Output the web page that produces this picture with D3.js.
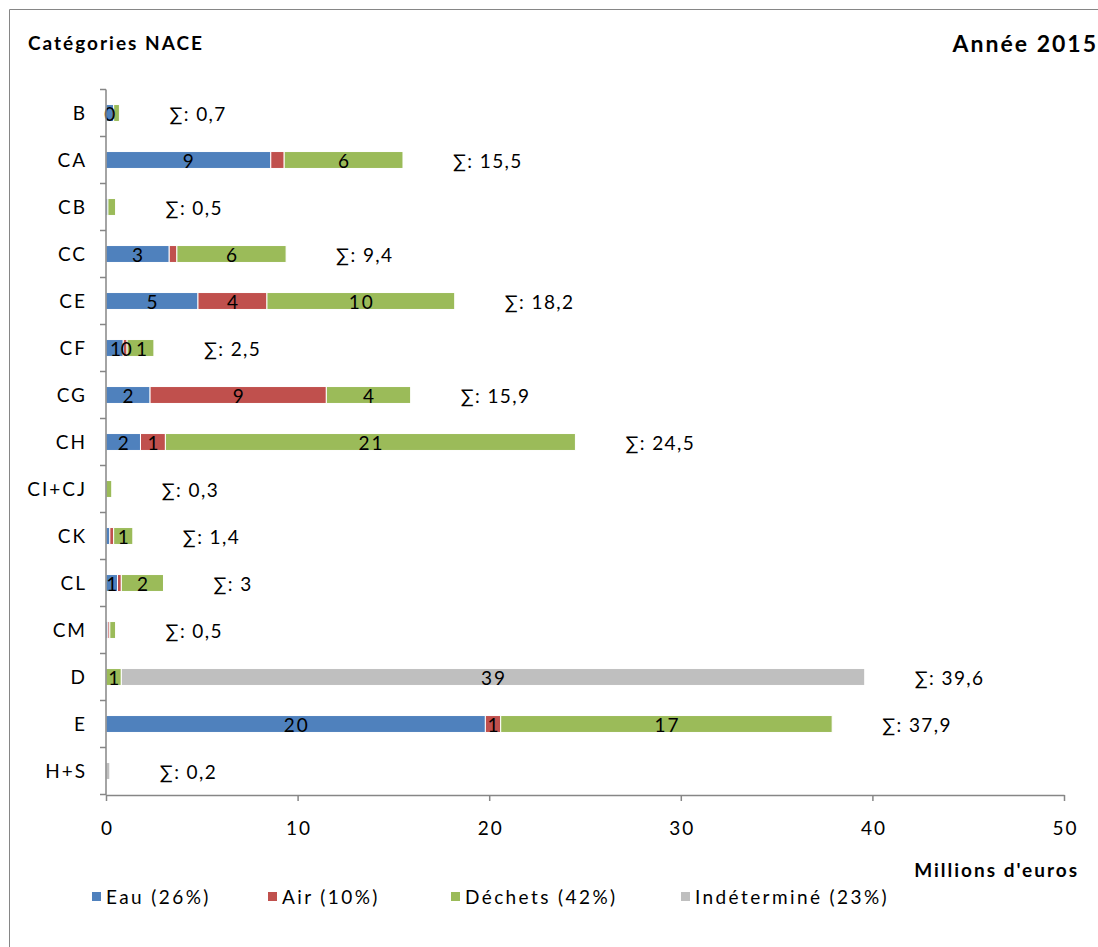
<!DOCTYPE html>
<html>
<head>
<meta charset="utf-8">
<script src="https://cdn.jsdelivr.net/npm/d3@7"></script>
<style>
  html, body { margin: 0; padding: 0; background: #fff; }
  svg { display: block; font-family: "Lato", "Liberation Sans", sans-serif; }
  svg text { letter-spacing: 2px; }
</style>
</head>
<body>
<svg id="chart" width="1098" height="947"></svg>
<script>
// NACE categories, top to bottom
const categories = ["B", "CA", "CB", "CC", "CE", "CF", "CG", "CH", "CI+CJ", "CK", "CL", "CM", "D", "E", "H+S"];

// Expenditure per domain, millions of euros (2015)
const eau         = [0.4, 8.6, 0.1, 3.3, 4.8, 0.9, 2.3, 1.8, 0.0, 0.2, 0.6, 0.1, 0.0, 19.8, 0.0];
const air         = [0.0, 0.7, 0.0, 0.4, 3.6, 0.2, 9.2, 1.3, 0.0, 0.2, 0.2, 0.1, 0.0, 0.8, 0.0];
const dechets     = [0.3, 6.2, 0.4, 5.7, 9.8, 1.4, 4.4, 21.4, 0.3, 1.0, 2.2, 0.3, 0.8, 17.3, 0.0];
const indetermine = [0.0, 0.0, 0.0, 0.0, 0.0, 0.0, 0.0, 0.0, 0.0, 0.0, 0.0, 0.0, 38.8, 0.0, 0.2];

// Which segments carry a value label
const labelEau         = [1,1,0,1,1,1,1,1,0,0,1,0,0,1,0];
const labelAir         = [0,0,0,0,1,1,1,1,0,0,0,0,0,1,0];
const labelDechets     = [0,1,0,1,1,1,1,1,0,1,1,0,1,1,0];
const labelIndetermine = [0,0,0,0,0,0,0,0,0,0,0,0,1,0,0];

const seriesNames = ["Eau (26%)", "Air (10%)", "Déchets (42%)", "Indéterminé (23%)"];
const seriesColors = ["#4F81BD", "#C0504D", "#9BBB59", "#BFBFBF"];
const xTicks = [0, 10, 20, 30, 40, 50];

const seriesValues = [eau, air, dechets, indetermine];
const seriesLabels = [labelEau, labelAir, labelDechets, labelIndetermine];

const svg = d3.select("#chart");

// Chart frame
svg.append("path")
  .attr("d", "M9.5,947 V9.5 H1098")
  .attr("fill", "none")
  .attr("stroke", "#868686")
  .attr("stroke-width", 1);

const x = d3.scaleLinear().domain([0, 50]).range([106, 1064]);
const y = d3.scaleBand().domain(categories).range([89.5, 794.5]).paddingInner(0.64).paddingOuter(0.32);
const band = d3.scaleBand().domain(categories).range([89.5, 794.5]);

const fmt = v => d3.format(".1f")(v).replace(".", ",").replace(/,0$/, "");

// Stacked rows
const rows = categories.map((c, i) => {
  let acc = 0;
  const segs = seriesValues.map((vals, s) => {
    const seg = { cat: c, s, v: vals[i], x0: acc, x1: acc + vals[i], label: seriesLabels[s][i] };
    acc += vals[i];
    return seg;
  });
  return { cat: c, segs, total: acc };
});

const segs = rows.flatMap(r => r.segs).filter(d => d.v > 0);

svg.append("g").selectAll("rect")
  .data(segs)
  .join("rect")
  .attr("x", d => x(d.x0))
  .attr("y", d => y(d.cat))
  .attr("width", d => x(d.x1) - x(d.x0))
  .attr("height", y.bandwidth())
  .attr("fill", d => seriesColors[d.s])
  .attr("stroke", "#fff")
  .attr("stroke-width", 1);

// Segment value labels
svg.append("g").selectAll("text")
  .data(segs.filter(d => d.label))
  .join("text")
  .attr("x", d => (x(d.x0) + x(d.x1)) / 2 + 1)
  .attr("y", d => y(d.cat) + y.bandwidth() / 2 + 8)
  .attr("text-anchor", "middle")
  .attr("font-size", 19)
  .style("letter-spacing", d => (d.cat === "CF" ? "0px" : "2px"))
  .attr("fill", "#000")
  .text(d => Math.round(d.v));

// Row totals
svg.append("g").selectAll("text")
  .data(rows)
  .join("text")
  .attr("x", d => x(d.total) + 50)
  .attr("y", d => band(d.cat) + band.bandwidth() / 2 + 8)
  .attr("font-size", 19)
  .style("letter-spacing", "1.4px")
  .attr("fill", "#000")
  .text(d => "∑: " + fmt(d.total));

// Y axis
const yAxis = svg.append("g").attr("transform", "translate(106,0)");
yAxis.append("line")
  .attr("x1", 0).attr("x2", 0)
  .attr("y1", 89.5).attr("y2", 795)
  .attr("stroke", "#868686").attr("stroke-width", 1.5);
yAxis.selectAll("line.tick")
  .data(d3.range(categories.length + 1))
  .join("line")
  .attr("class", "tick")
  .attr("x1", -6).attr("x2", 0)
  .attr("y1", i => 89.5 + i * band.step())
  .attr("y2", i => 89.5 + i * band.step())
  .attr("stroke", "#868686").attr("stroke-width", 1.5);
yAxis.selectAll("text")
  .data(categories)
  .join("text")
  .attr("x", -19)
  .attr("y", c => band(c) + band.bandwidth() / 2 + 7)
  .attr("text-anchor", "end")
  .attr("font-size", 19)
  .attr("fill", "#000")
  .text(c => c);

// X axis
const xAxis = svg.append("g").attr("transform", "translate(0,795)")
  .call(d3.axisBottom(x).tickValues(xTicks).tickSize(6).tickSizeOuter(0).tickFormat(d3.format("d")));
xAxis.select(".domain").attr("stroke", "#868686").attr("stroke-width", 1.5);
xAxis.selectAll(".tick line").attr("stroke", "#868686").attr("stroke-width", 1.5);
xAxis.selectAll(".tick text")
  .attr("font-size", 19)
  .attr("font-family", "Lato, 'Liberation Sans', sans-serif")
  .attr("fill", "#000")
  .attr("dy", "0")
  .attr("dx", "1")
  .attr("y", 40);

// Titles
svg.append("text")
  .attr("x", 28).attr("y", 50)
  .attr("font-size", 19).attr("font-weight", "bold")
  .text("Catégories NACE");
svg.append("text")
  .attr("x", 1098).attr("y", 52)
  .attr("text-anchor", "end")
  .attr("font-size", 23).attr("font-weight", "bold")
  .text("Année 2015");
svg.append("text")
  .attr("x", 1079).attr("y", 877)
  .attr("text-anchor", "end")
  .attr("font-size", 19).attr("font-weight", "bold")
  .text("Millions d'euros");

// Legend
const legendX = [92, 268, 451, 681];
const legend = svg.append("g").selectAll("g")
  .data(seriesNames)
  .join("g")
  .attr("transform", (d, i) => `translate(${legendX[i]},897)`);
legend.append("rect")
  .attr("x", 0).attr("y", -5)
  .attr("width", 9).attr("height", 9)
  .attr("fill", (d, i) => seriesColors[i]);
legend.append("text")
  .attr("x", 14).attr("y", 7)
  .attr("font-size", 19)
  .style("letter-spacing", "2.4px")
  .text(d => d);
</script>
</body>
</html>
